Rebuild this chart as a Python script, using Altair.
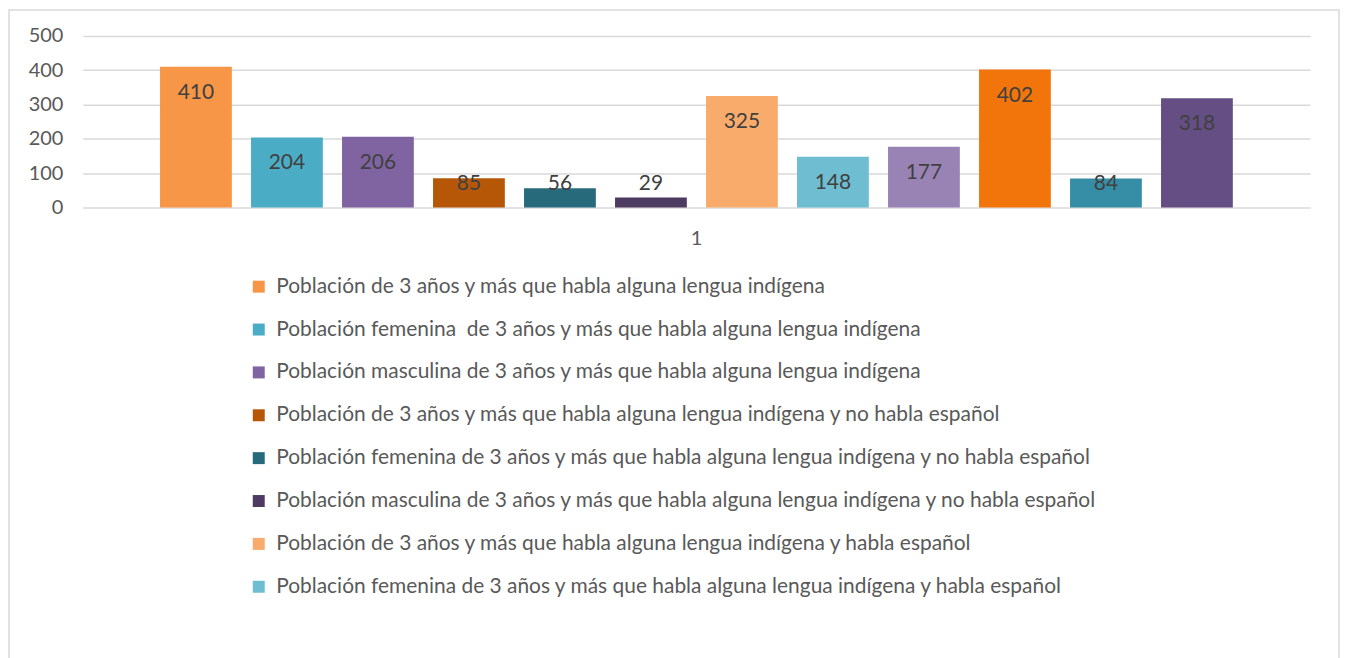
import altair as alt
import pandas as pd

series = [
    "Población de 3 años y más que habla alguna lengua indígena",
    "Población femenina \u00a0de 3 años y más que habla alguna lengua indígena",
    "Población masculina de 3 años y más que habla alguna lengua indígena",
    "Población de 3 años y más que habla alguna lengua indígena y no habla español",
    "Población femenina de 3 años y más que habla alguna lengua indígena y no habla español",
    "Población masculina de 3 años y más que habla alguna lengua indígena y no habla español",
    "Población de 3 años y más que habla alguna lengua indígena y habla español",
    "Población femenina de 3 años y más que habla alguna lengua indígena y habla español",
    "Población masculina de 3 años y más que habla alguna lengua indígena y habla español",
    "Población de 3 años y más que no habla lengua indígena",
    "Población femenina de 3 años y más que no habla lengua indígena",
    "Población masculina de 3 años y más que no habla lengua indígena",
]
values = [410, 204, 206, 85, 56, 29, 325, 148, 177, 402, 84, 318]
colors = ["#F79646", "#4BACC6", "#8064A2", "#B65708", "#276A7C", "#4D3B62",
          "#F9AB6B", "#6FBDD1", "#9983B5", "#F2750C", "#368EA6", "#654E83"]
category = "1"
y_ticks = [0, 100, 200, 300, 400, 500]

df = pd.DataFrame({"cat": [category] * len(series), "serie": series, "valor": values,
                   "orden": list(range(len(series)))})

FONT = "Lato"
GREY = "#595959"

x_axis = alt.Axis(labelAngle=0, ticks=False, domain=False, labelPadding=21,
                  labelFontSize=20, labelColor=GREY, labelFont=FONT)
x_scale = alt.Scale(paddingInner=0, paddingOuter=0.062)
xoff = alt.XOffset("serie:N", sort=series,
                   scale=alt.Scale(paddingInner=0.211, paddingOuter=0.105))
y_axis = alt.Axis(values=y_ticks, ticks=False, domain=False, labelPadding=20,
                  labelFontSize=20, labelColor=GREY, labelFont=FONT,
                  labelOverlap=False, gridColor="#D9D9D9", gridWidth=1.5)
y_scale = alt.Scale(domain=[0, 500], nice=False)

base = alt.Chart(df)

bars = base.mark_bar().encode(
    x=alt.X("cat:N", title=None, scale=x_scale, axis=x_axis),
    xOffset=xoff,
    y=alt.Y("valor:Q", title=None, scale=y_scale, axis=y_axis),
    color=alt.Color("serie:N", sort=series,
                    scale=alt.Scale(domain=series, range=colors),
                    legend=alt.Legend(values=series[:8], title=None, orient="none",
                                      legendX=166, legendY=241, direction="vertical",
                                      symbolType="square", symbolSize=144,
                                      symbolStrokeWidth=0, labelFontSize=21,
                                      labelFont=FONT, labelColor=GREY, labelOffset=7,
                                      labelLimit=2000, rowPadding=21, padding=0)),
)

labels = base.transform_calculate(
    lab_y="max(datum.valor - 76, 67)"
).mark_text(fontSize=21, font=FONT, color="#404040", baseline="middle").encode(
    x=alt.X("cat:N", title=None, scale=x_scale, axis=x_axis),
    xOffset=xoff,
    y=alt.Y("lab_y:Q", title=None, scale=y_scale, axis=y_axis),
    text=alt.Text("valor:Q"),
)

border = alt.Chart(pd.DataFrame({"b": [0]})).mark_rect(
    fill="transparent", stroke="#D9D9D9", strokeWidth=1.5
).encode(x=alt.value(-74), x2=alt.value(1260), y=alt.value(-26), y2=alt.value(640))

chart = alt.layer(border, bars, labels).properties(
    width=1231, height=172, padding=0
).configure_view(stroke=None)

chart.save("out.html", embed_options={"renderer": "svg", "actions": False})
